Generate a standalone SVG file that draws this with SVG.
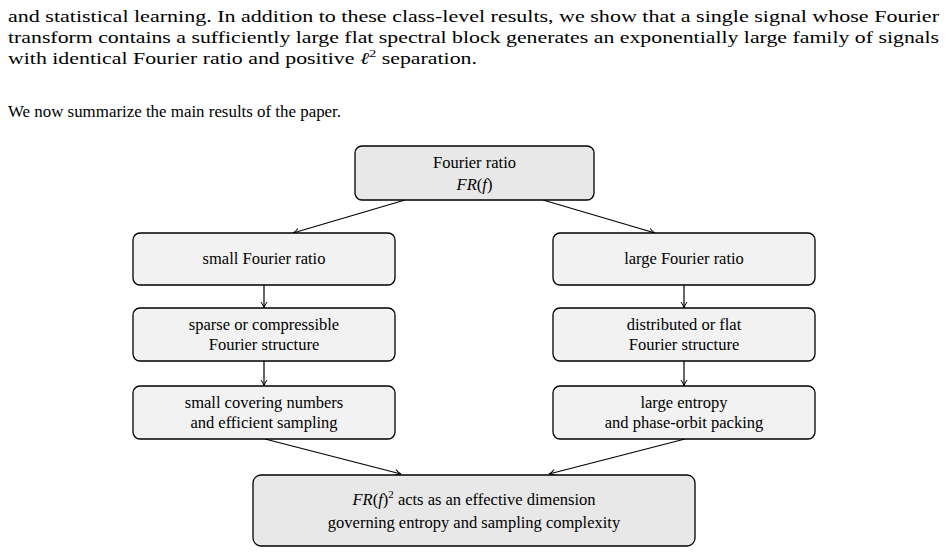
<svg xmlns="http://www.w3.org/2000/svg" width="947" height="554" viewBox="0 0 947 554">
<style>
text{font-family:"Liberation Serif","DejaVu Serif",serif;font-size:16.5px;fill:#000}
.c{text-anchor:middle}
.n{fill:#f2f2f2;stroke:#000;stroke-width:1.3}
.d{fill:#e8e8e8;stroke:#000;stroke-width:1.3}
.e{stroke:#000;stroke-width:1.2;fill:none;marker-end:url(#a)}
</style>
<defs><marker id="a" markerWidth="8" markerHeight="8" refX="7" refY="4" orient="auto" markerUnits="userSpaceOnUse"><path d="M1,1 Q4,3.3 7,4 Q4,4.7 1,7" fill="none" stroke="#000" stroke-width="1"/></marker></defs>
<text x="8" y="22" textLength="931" lengthAdjust="spacingAndGlyphs">and statistical learning. In addition to these class-level results, we show that a single signal whose Fourier</text>
<text x="8" y="43" textLength="931" lengthAdjust="spacingAndGlyphs">transform contains a sufficiently large flat spectral block generates an exponentially large family of signals</text>
<text x="8" y="64" textLength="469" lengthAdjust="spacingAndGlyphs">with identical Fourier ratio and positive <tspan font-style="italic">ℓ</tspan><tspan font-size="11" dy="-7">2</tspan><tspan dy="7"> separation.</tspan></text>
<text x="8" y="117" textLength="333" lengthAdjust="spacingAndGlyphs">We now summarize the main results of the paper.</text>
<g id="connectors">
<line class="e" x1="405" y1="200" x2="293" y2="233"/>
<line class="e" x1="543" y1="200" x2="655" y2="233"/>
<line class="e" x1="264" y1="285" x2="264" y2="308"/>
<line class="e" x1="684" y1="285" x2="684" y2="308"/>
<line class="e" x1="264" y1="361" x2="264" y2="386"/>
<line class="e" x1="684" y1="361" x2="684" y2="386"/>
<line class="e" x1="265" y1="439" x2="401" y2="474"/>
<line class="e" x1="685" y1="439" x2="549" y2="474"/>
</g>
<g id="top"><rect class="d" x="355" y="146" width="239" height="54" rx="7"/><text class="c" x="474.5" y="168">Fourier ratio</text><text class="c" x="474.5" y="190" font-style="italic">FR<tspan font-style="normal">(</tspan>f<tspan font-style="normal">)</tspan></text></g>
<g id="l1"><rect class="n" x="133" y="233" width="262" height="52" rx="7"/><text class="c" x="264" y="264">small Fourier ratio</text></g>
<g id="r1"><rect class="n" x="553" y="233" width="262" height="52" rx="7"/><text class="c" x="684" y="264">large Fourier ratio</text></g>
<g id="l2"><rect class="n" x="133" y="308" width="262" height="53" rx="7"/><text class="c" x="264" y="330">sparse or compressible</text><text class="c" x="264" y="350">Fourier structure</text></g>
<g id="r2"><rect class="n" x="553" y="308" width="262" height="53" rx="7"/><text class="c" x="684" y="330">distributed or flat</text><text class="c" x="684" y="350">Fourier structure</text></g>
<g id="l3"><rect class="n" x="133" y="386" width="262" height="53" rx="7"/><text class="c" x="264" y="408">small covering numbers</text><text class="c" x="264" y="428">and efficient sampling</text></g>
<g id="r3"><rect class="n" x="553" y="386" width="262" height="53" rx="7"/><text class="c" x="684" y="408">large entropy</text><text class="c" x="684" y="428">and phase-orbit packing</text></g>
<g id="bottom"><rect class="d" x="253" y="475" width="442" height="71" rx="8"/><text class="c" x="474" y="505"><tspan font-style="italic">FR</tspan>(<tspan font-style="italic">f</tspan>)<tspan font-size="11" dy="-7">2</tspan><tspan dy="7"> acts as an effective dimension</tspan></text><text class="c" x="474" y="528">governing entropy and sampling complexity</text></g>
</svg>
